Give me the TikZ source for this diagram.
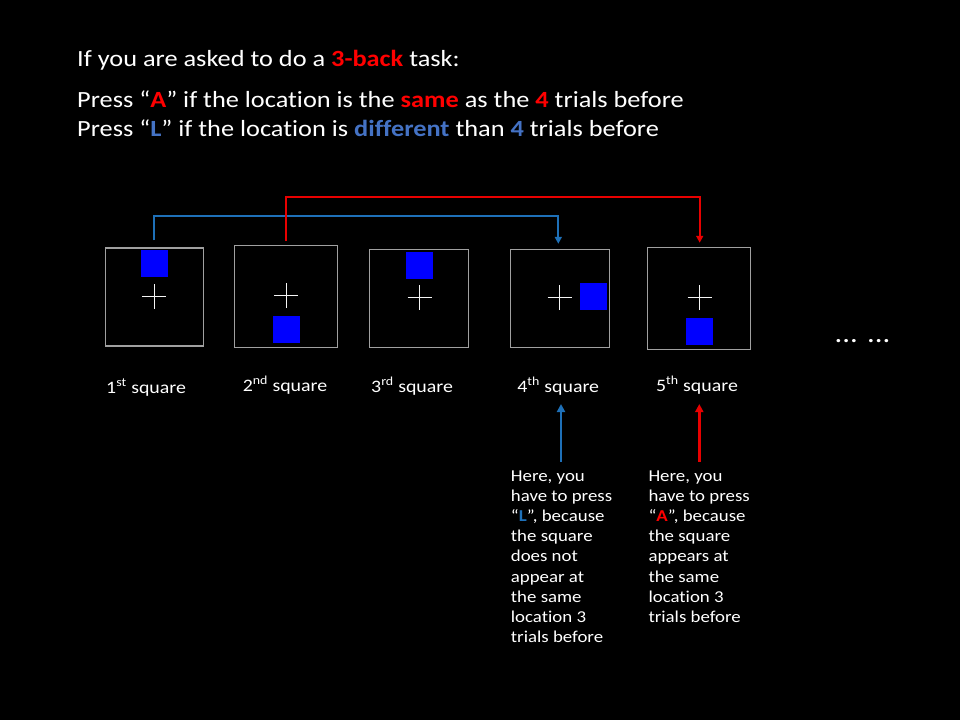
\documentclass[tikz,border=0pt]{standalone}
\usepackage{fontspec}
\setmainfont{Carlito}[Ligatures=NoCommon]
\usetikzlibrary{arrows.meta}

\definecolor{hired}{RGB}{255,0,0}
\definecolor{hiblue}{RGB}{68,114,196}
\definecolor{linkblue}{RGB}{30,112,184}
\definecolor{linkred}{RGB}{232,0,0}
\definecolor{framegray}{RGB}{160,160,160}
\definecolor{targetblue}{RGB}{0,0,255}

% slide text is set slightly wide
\newcommand\wide[1]{\scalebox{1.135}[1]{#1}}
% fixation cross around a named point
\newcommand\fixcross[1]{%
  \draw[fix] ([xshift=-12pt]#1) -- ([xshift=12pt]#1)
             ([yshift=-12.5pt]#1) -- ([yshift=12.5pt]#1);}

\begin{document}
\begin{tikzpicture}[x=1pt,y=-1pt,
  headline/.style={anchor=base west, inner sep=0, text=white,
    font=\fontsize{23.2}{28.3}\selectfont},
  trialbox/.style={draw=framegray, line width=1.1pt, inner sep=0},
  fix/.style={draw=white!92!gray, line width=1pt},
  target/.style={fill=targetblue, minimum size=27pt, inner sep=0},
  caption/.style={anchor=base west, inner sep=0, text=white,
    font=\fontsize{17.5}{21}\selectfont},
  note/.style={anchor=north west, inner sep=0, text=white, align=left,
    font=\fontsize{16.6}{20.2}\selectfont},
  link/.style={line width=2pt, -{Triangle[length=7pt,width=7pt]}},
  pointer/.style={line width=2.5pt, -{Triangle[length=8pt,width=8pt]}},
]
\fill[black] (0,0) rectangle (960,720);
\useasboundingbox (0,0) rectangle (960,720);

% instructions
\node[headline] (title) at (77,66)
  {\wide{If you are asked to do a \textbf{\textcolor{hired}{3-back}} task:}};
\node[headline] (rule1) at (77,107.7)
  {\wide{Press “\textbf{\textcolor{hired}{A}}” if the location is the \textbf{\textcolor{hired}{same}} as the \textbf{\textcolor{hired}{4}} trials before}};
\node[headline] (rule2) at (77,136)
  {\wide{Press “\textbf{\textcolor{hiblue}{L}}” if the location is \textbf{\textcolor{hiblue}{different}} than \textbf{\textcolor{hiblue}{4}} trials before}};

% trial screens
\node[trialbox, minimum width=98pt,  minimum height=98pt]  (b1) at (154.2,297) {};
\node[trialbox, minimum width=102.8pt, minimum height=102.7pt] (b2) at (285.8,296.5) {};
\node[trialbox, minimum width=99pt,  minimum height=98.7pt] (b3) at (419.2,298.4) {};
\node[trialbox, minimum width=99.3pt, minimum height=98.7pt] (b4) at (559.9,298.4) {};
\node[trialbox, minimum width=103.7pt, minimum height=102.4pt] (b5) at (699,298.5) {};

% fixation crosses
\coordinate (c1) at (154.2,296.3);
\coordinate (c2) at (286,295.7);
\coordinate (c3) at (419.6,297.3);
\coordinate (c4) at (559.7,297.7);
\coordinate (c5) at (699.7,297.7);
\fixcross{c1}\fixcross{c2}\fixcross{c3}\fixcross{c4}\fixcross{c5}

% target squares
\node[target] (q1) at (154.6,263.8) {};
\node[target] (q2) at (286,329.5) {};
\node[target] (q3) at (419.8,265) {};
\node[target] (q4) at (593,296.3) {};
\node[target] (q5) at (699.5,331.3) {};

% comparison links
\coordinate (s1) at ([yshift=7pt]b1.north);
\coordinate (t4) at ([xshift=-1.6pt,yshift=4.7pt]b4.north);
\coordinate (s2) at ([yshift=3.5pt]b2.north);
\coordinate (t5) at ([xshift=0.7pt,yshift=4pt]b5.north);
\draw[link, linkblue] (s1) -- ++(0,-24.3) -| (t4);
\draw[link, linkred]  (s2) -- ++(0,-44.3) -| (t5);

\node[font=\fontsize{27}{30}\selectfont, text=white, anchor=base west, inner sep=0] (more) at (834.5,342) {\wide{... ...}};

% captions
\node[caption] (l1) at (106,393)   {\wide{1\textsuperscript{st} square}};
\node[caption] (l2) at (242.6,391) {\wide{2\textsuperscript{nd} square}};
\node[caption] (l3) at (371,392)   {\wide{3\textsuperscript{rd} square}};
\node[caption] (l4) at (517.1,392) {\wide{4\textsuperscript{th} square}};
\node[caption] (l5) at (655.9,391) {\wide{5\textsuperscript{th} square}};

% explanations
\node[note] (n4) at (510.7,470.2) {\wide{Here, you}\\ \wide{have to press}\\ \wide{“\textbf{\textcolor{linkblue}{L}}”, because}\\ \wide{the square}\\ \wide{does not}\\ \wide{appear at}\\ \wide{the same}\\ \wide{location 3}\\ \wide{trials before}};
\node[note] (n5) at (648.3,470.2) {\wide{Here, you}\\ \wide{have to press}\\ \wide{“\textbf{\textcolor{hired}{A}}”, because}\\ \wide{the square}\\ \wide{appears at}\\ \wide{the same}\\ \wide{location 3}\\ \wide{trials before}};

\coordinate (u4) at (561,461.7);
\coordinate (v4) at (561,404);
\coordinate (u5) at (699.3,461.7);
\coordinate (v5) at (699.3,404);
\draw[pointer, linkblue] (u4) -- (v4);
\draw[pointer, linkred]  (u5) -- (v5);
\end{tikzpicture}
\end{document}
